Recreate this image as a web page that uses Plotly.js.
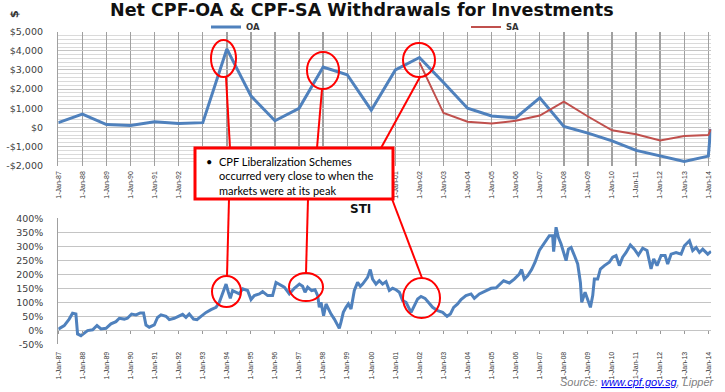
<!DOCTYPE html>
<html>
<head>
<meta charset="utf-8">
<script src="https://cdn.plot.ly/plotly-3.0.1.min.js"></script>
<style>html,body{margin:0;padding:0;background:#fff;}#chart{width:725px;height:392px;}</style>
</head>
<body>
<div id="chart"></div>
<script>
// ---- Data ----
const oaDates = ["1987-01-01","1988-01-01","1989-01-01","1990-01-01","1991-01-01","1992-01-01","1993-01-01","1994-01-01","1995-01-01","1996-01-01","1997-01-01","1998-01-01","1999-01-01","2000-01-01","2001-01-01","2002-01-01","2003-01-01","2004-01-01","2005-01-01","2006-01-01","2007-01-01","2008-01-01","2009-01-01","2010-01-01","2011-01-01","2012-01-01","2013-01-01","2014-01-01","2014-02-05"];
const oaValues = [250,700,150,100,300,200,250,4100,1650,350,1000,3150,2750,900,3000,3650,2350,1000,600,500,1550,50,-300,-700,-1200,-1500,-1780,-1500,-80];

const saDates = ["2002-01-01","2003-01-01","2004-01-01","2005-01-01","2006-01-01","2007-01-01","2008-01-01","2009-01-01","2010-01-01","2011-01-01","2012-01-01","2013-01-01","2014-01-01","2014-02-05"];
const saValues = [3400,750,300,200,350,620,1350,570,-150,-360,-680,-450,-400,-100];

const stiDates = ["1987-01-01","1987-04-01","1987-06-15","1987-08-05","1987-09-25","1987-10-20","1987-12-10","1988-03-20","1988-06-05","1988-08-10","1988-10-10","1988-12-25","1989-03-10","1989-05-25","1989-07-15","1989-09-28","1989-11-15","1990-01-17","1990-03-25","1990-05-28","1990-07-17","1990-08-23","1990-10-12","1990-12-27","1991-02-15","1991-04-08","1991-06-23","1991-08-12","1991-10-26","1992-01-10","1992-03-01","1992-04-21","1992-06-10","1992-08-14","1992-10-05","1992-12-05","1993-02-20","1993-05-06","1993-07-21","1993-09-09","1993-10-29","1993-12-20","1994-01-24","1994-02-23","1994-03-29","1994-05-20","1994-07-09","1994-08-28","1994-11-12","1995-01-03","1995-02-22","1995-05-09","1995-06-28","1995-09-12","1995-11-26","1996-01-17","1996-03-07","1996-05-22","1996-08-06","1996-10-21","1997-01-05","1997-02-24","1997-04-01","1997-05-11","1997-07-10","1997-08-31","1997-10-10","1997-11-04","1997-11-30","1998-01-08","1998-02-14","1998-03-21","1998-05-01","1998-06-20","1998-08-09","1998-09-03","1998-09-29","1998-11-03","1998-12-14","1999-01-18","1999-02-28","1999-04-19","1999-06-08","1999-07-19","1999-08-23","1999-09-28","1999-11-06","1999-12-17","2000-01-21","2000-03-13","2000-05-02","2000-06-21","2000-08-12","2000-10-01","2000-11-20","2001-01-11","2001-03-02","2001-04-21","2001-06-12","2001-08-27","2001-10-16","2001-12-05","2002-01-25","2002-03-27","2002-05-16","2002-07-20","2002-10-04","2002-12-19","2003-02-24","2003-04-15","2003-06-04","2003-08-03","2003-09-24","2003-12-08","2004-02-23","2004-04-13","2004-06-28","2004-09-12","2004-12-23","2005-03-10","2005-07-01","2005-09-26","2005-12-10","2006-02-24","2006-03-31","2006-05-11","2006-06-30","2006-08-30","2006-10-21","2006-12-25","2007-02-14","2007-04-06","2007-05-26","2007-07-15","2007-07-30","2007-09-05","2007-10-10","2007-11-20","2007-12-29","2008-02-04","2008-03-10","2008-04-20","2008-06-09","2008-07-29","2008-09-08","2008-09-28","2008-11-18","2008-12-28","2009-02-07","2009-03-14","2009-04-08","2009-05-28","2009-07-08","2009-09-07","2009-11-21","2010-01-11","2010-03-03","2010-04-22","2010-06-11","2010-08-02","2010-10-06","2010-12-06","2011-02-05","2011-04-11","2011-06-16","2011-08-16","2011-09-25","2011-11-15","2012-01-15","2012-03-16","2012-04-24","2012-06-15","2012-08-30","2012-11-14","2013-01-03","2013-03-20","2013-05-09","2013-06-30","2013-08-19","2013-10-08","2013-12-23","2014-02-12"];
const stiValues = [4,17,40,61,58,-13,-19,-1,2,17,5,7,23,31,43,40,43,58,55,62,62,19,11,19,46,55,50,38,43,50,57,46,58,40,38,50,64,74,82,100,130,165,136,114,142,136,130,148,142,110,124,130,138,124,124,171,164,154,130,150,165,157,136,154,142,145,124,82,100,52,94,76,58,40,17,7,29,64,82,94,76,142,171,157,165,177,189,217,183,165,177,165,174,142,150,145,136,106,100,64,88,112,121,114,100,82,70,64,50,58,82,94,110,124,130,114,130,138,150,152,177,169,183,201,217,183,195,217,243,285,302,320,338,338,281,368,332,308,278,249,290,296,267,237,171,100,136,106,82,124,183,183,219,231,243,261,267,231,261,278,305,290,269,293,285,219,255,231,267,267,237,272,278,272,302,320,285,296,278,290,272,282];

const topTickVals = [-2000,-1000,0,1000,2000,3000,4000,5000];
const topTickText = ["-$2,000","-$1,000","$0","$1,000","$2,000","$3,000","$4,000","$5,000"];
const botTickVals = [-50,0,50,100,150,200,250,300,350,400];
const botTickText = ["-50%","0%","50%","100%","150%","200%","250%","300%","350%","400%"];

const chartTitle = "Net CPF-OA & CPF-SA Withdrawals for Investments";
const subTitle = "STI";
const noteLines = ["CPF Liberalization Schemes","occurred very close to when the","markets were at its peak"];

// ---- Layout helpers (pixel -> paper, margins are zero) ----
const W = 725, H = 392;
const px = x => x / W;
const py = y => 1 - y / H;

const xRange = ["1987-01-01", "2014-02-15"];
const xDomain = [px(58.3), px(711.3)];
const tickFontX = {family: "Liberation Sans Narrow, Liberation Sans, Arial", size: 7, color: "#333"};
const tickFontY = {family: "DejaVu Sans, Verdana", size: 9.5, color: "#404040"};
const legFont = {family: "DejaVu Sans, Verdana", size: 8.5, color: "#333", weight: "bold"};

const traces = [
  {x: oaDates, y: oaValues, type: "scatter", mode: "lines", name: "OA", legend: "legend",
   line: {color: "#4f81bd", width: 3}, xaxis: "x", yaxis: "y"},
  {x: saDates, y: saValues, type: "scatter", mode: "lines", name: "SA", legend: "legend2",
   line: {color: "#c0504d", width: 2}, xaxis: "x", yaxis: "y"},
  {x: stiDates, y: stiValues, type: "scatter", mode: "lines", name: "STI", showlegend: false,
   line: {color: "#4f81bd", width: 3}, xaxis: "x2", yaxis: "y2"}
];

const red = "#ff0000";
function circ(x0,x1,y0,y1){return {type:"circle",xref:"paper",yref:"paper",x0:px(x0),x1:px(x1),y0:py(y1),y1:py(y0),line:{color:red,width:2}};}
function seg(x0,y0,x1,y1){return {type:"line",xref:"paper",yref:"paper",x0:px(x0),y0:py(y0),x1:px(x1),y1:py(y1),line:{color:red,width:2}};}

const shapes = [
  seg(226,77,230,148), seg(229,199,227,276),
  seg(322,89,317,148), seg(308,199,306,273),
  seg(420,77,381,148), seg(392,199,422,278),
  circ(211,236,40,77), circ(307,339,52,89), circ(403,435,43,77),
  circ(212,241,276,307), circ(289,323,273,301), circ(403,440,278,318),
  {type:"rect",xref:"paper",yref:"paper",x0:px(195),x1:px(393),y0:py(199),y1:py(148),
   line:{color:red,width:3},fillcolor:"#ffffff"}
];

const annFont = {family: "Lato, Carlito, Liberation Sans", size: 11, color: "#000"};
const annotations = [
  {xref:"paper",yref:"paper",x:px(362),y:py(10),text:"<b>"+chartTitle+"</b>",showarrow:false,
   xanchor:"center",yanchor:"middle",font:{family:"DejaVu Sans, Verdana",size:17.5,color:"#111"}},
  {xref:"paper",yref:"paper",x:px(15),y:py(14),text:"<b>$</b>",textangle:-90,showarrow:false,
   xanchor:"center",yanchor:"middle",font:{family:"DejaVu Sans, Verdana",size:11,color:"#333"}},
  {xref:"paper",yref:"paper",x:px(360),y:py(209),text:"<b>"+subTitle+"</b>",showarrow:false,
   xanchor:"center",yanchor:"middle",font:{family:"DejaVu Sans, Verdana",size:12,color:"#111"}},
  {xref:"paper",yref:"paper",x:px(204),y:py(153),text:"•",showarrow:false,
   xanchor:"left",yanchor:"top",font:annFont},
  {xref:"paper",yref:"paper",x:px(217),y:py(153),text:noteLines.join("<br>"),showarrow:false,
   xanchor:"left",yanchor:"top",align:"left",font:annFont},
  {xref:"paper",yref:"paper",x:px(717),y:py(382),
   text:"<i>Source: <span style='color:#0000ee'><u>www.cpf.gov.sg</u></span>, Lipper</i>",showarrow:false,
   xanchor:"right",yanchor:"middle",font:{family:"Liberation Sans, Arial",size:11,color:"#7f7f7f"}}
];

const layout = {
  width: W, height: H,
  margin: {l:0, r:0, t:0, b:0},
  paper_bgcolor: "#fff", plot_bgcolor: "#fff",
  showlegend: true,
  legend: {orientation:"h", x:px(206), y:py(27), xanchor:"left", yanchor:"middle",
           bgcolor:"rgba(0,0,0,0)", borderwidth:0, font:legFont, itemwidth:30},
  legend2: {orientation:"h", x:px(466), y:py(27), xanchor:"left", yanchor:"middle",
           bgcolor:"rgba(0,0,0,0)", borderwidth:0, font:legFont, itemwidth:30},
  xaxis: {type:"date", range:xRange, domain:xDomain, anchor:"y",
          tick0:"1987-01-01", dtick:"M12", tickformat:"%-d-%b-%y", tickangle:-90,
          tickfont:tickFontX, showgrid:true, gridcolor:"#a0a0a0", gridwidth:1.4,
          zeroline:false, showline:false, ticks:"", ticklabelstandoff:3},
  yaxis: {domain:[py(165.7), py(31.7)], range:[-2000,5000], anchor:"x",
          tickvals:topTickVals, ticktext:topTickText, tickfont:tickFontY,
          showgrid:true, gridcolor:"#c4c4c4", gridwidth:1,
          minor:{dtick:200, showgrid:true, gridcolor:"#dadada", gridwidth:1},
          zeroline:false, showline:true, linecolor:"#a0a0a0", linewidth:1.4,
          ticks:"", ticklabelstandoff:12},
  xaxis2: {type:"date", range:xRange, domain:xDomain, anchor:"free", position:py(330),
           tick0:"1987-01-01", dtick:"M12", tickformat:"%-d-%b-%y", tickangle:-90,
           tickfont:tickFontX, showgrid:false, zeroline:false, showline:false,
           ticks:"outside", ticklen:3, tickcolor:"#999", tickwidth:1, ticklabelstandoff:15},
  yaxis2: {domain:[py(344.3), py(218.3)], range:[-50,400], anchor:"x2",
           tickvals:botTickVals, ticktext:botTickText, tickfont:tickFontY,
           showgrid:true, gridcolor:"#c4c4c4", gridwidth:1,
           zeroline:false, showline:true, linecolor:"#a0a0a0", linewidth:1,
           ticks:"", ticklabelstandoff:12},
  shapes: shapes,
  annotations: annotations
};

Plotly.newPlot("chart", traces, layout, {staticPlot:true, displayModeBar:false});
</script>
</body>
</html>
